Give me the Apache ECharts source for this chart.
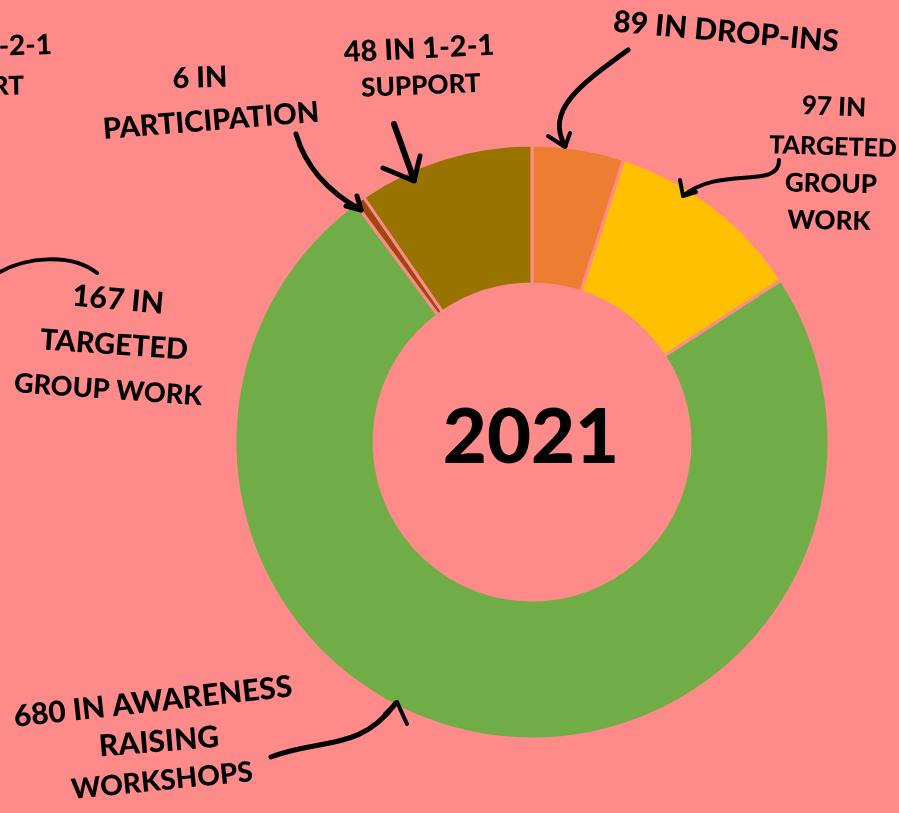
<!DOCTYPE html>
<html>
<head>
<meta charset="utf-8">
<script src="https://cdn.jsdelivr.net/npm/echarts@6/dist/echarts.min.js"></script>
<style>
html,body{margin:0;padding:0;background:#FF8A8A;}
#c{width:899px;height:813px;}
</style>
</head>
<body>
<div id="c"></div>
<script>
// Slice categories (clockwise from 12 o'clock)
const categories = ['Drop-ins', 'Targeted group work', 'Awareness raising workshops', 'Participation', '1-2-1 support'];
// Slice sizes as drawn in the picture (estimated shares)
const sliceShares = [18, 39, 266.5, 2, 34.5];
// Numbers written in the annotations
const labelCounts = [89, 97, 680, 6, 48];
const sliceColors = ['#ED7D31', '#FFC000', '#70AD47', '#9E480E', '#997300'];
const centerTitle = '2021';

const BG = '#FF8A8A';
const FONT = 'Lato, "Open Sans", sans-serif';

function txt(text, x, y, rot, size, align) {
  return {
    type: 'text', x: x, y: y, rotation: rot || 0, z: 10,
    style: {
      text: text, fill: '#000', font: '900 ' + (size || 26) + 'px ' + FONT,
      align: align || 'center', verticalAlign: 'middle'
    }
  };
}
function curve(x1, y1, c1x, c1y, c2x, c2y, x2, y2, w) {
  return {
    type: 'bezierCurve', z: 10,
    shape: {x1: x1, y1: y1, cpx1: c1x, cpy1: c1y, cpx2: c2x, cpy2: c2y, x2: x2, y2: y2},
    style: {stroke: '#000', lineWidth: w || 4, fill: null, lineCap: 'round'}
  };
}
function head(pts, w) {
  return {
    type: 'polyline', z: 10, shape: {points: pts},
    style: {stroke: '#000', lineWidth: w || 4, fill: null, lineCap: 'round', lineJoin: 'round'}
  };
}

const chart = echarts.init(document.getElementById('c'));
chart.setOption({
  backgroundColor: BG,
  animation: false,
  series: [{
    type: 'pie',
    center: [532, 442],
    radius: [158, 297],
    startAngle: 90,
    clockwise: true,
    label: {show: false},
    labelLine: {show: false},
    emphasis: {disabled: true},
    itemStyle: {borderColor: BG, borderWidth: 3},
    data: categories.map((c, i) => ({name: c, value: sliceShares[i], itemStyle: {color: sliceColors[i]}}))
  }],
  graphic: [
    txt(centerTitle, 531, 438, 0, 76),
    // Drop-ins
    txt(labelCounts[0] + ' IN DROP-INS', 726, 32, -0.09, 30),
    curve(628, 50, 580, 85, 545, 110, 565, 146, 5),
    head([[548, 136], [565, 147], [570, 133]], 4),
    // Targeted group work
    txt(labelCounts[1] + ' IN', 834, 107, -0.04, 26),
    txt('TARGETED', 833, 147, -0.03, 25),
    txt('GROUP', 831, 184, -0.02, 26),
    txt('WORK', 829, 221, -0.02, 26),
    curve(779, 160, 780, 190, 720, 165, 683, 196, 4),
    head([[680, 180], [683, 196], [696, 192]], 4),
    // Participation
    txt(labelCounts[3] + ' IN', 200, 78, 0.03, 29),
    txt('PARTICIPATION', 211, 121, 0.08, 29),
    curve(296, 134, 305, 165, 325, 190, 361, 210, 5),
    head([[346, 206], [361, 210], [357, 196]], 5),
    // 1-2-1 support
    txt(labelCounts[4] + ' IN 1-2-1', 419, 49, 0.05, 29),
    txt('SUPPORT', 421, 86, 0.04, 26),
    {type: 'line', z: 10, shape: {x1: 394, y1: 124, x2: 414, y2: 180},
     style: {stroke: '#000', lineWidth: 6, lineCap: 'round'}},
    head([[383, 168], [414, 181], [420, 156]], 5),
    // Awareness raising workshops
    txt(labelCounts[2] + ' IN AWARENESS', 153, 702, 0.11, 30),
    txt('RAISING', 159, 742, 0.08, 30),
    txt('WORKSHOPS', 162, 781, 0.1, 28),
    curve(271, 757, 320, 738, 360, 752, 396, 703, 5),
    head([[385, 714], [397, 702], [407, 724]], 4),
    // neighbouring (clipped) chart annotations at left edge
    txt('IN 1-2-1', 52, 45, 0.03, 28, 'right'),
    txt('SUPPORT', 24, 86, 0.02, 26, 'right'),
    txt('167 IN', 118, 300, -0.09, 30),
    txt('TARGETED', 114, 345, -0.07, 29),
    txt('GROUP WORK', 108, 390, -0.07, 27),
    curve(0, 272, 25, 258, 70, 252, 97, 273, 4)
  ]
});
</script>
</body>
</html>
